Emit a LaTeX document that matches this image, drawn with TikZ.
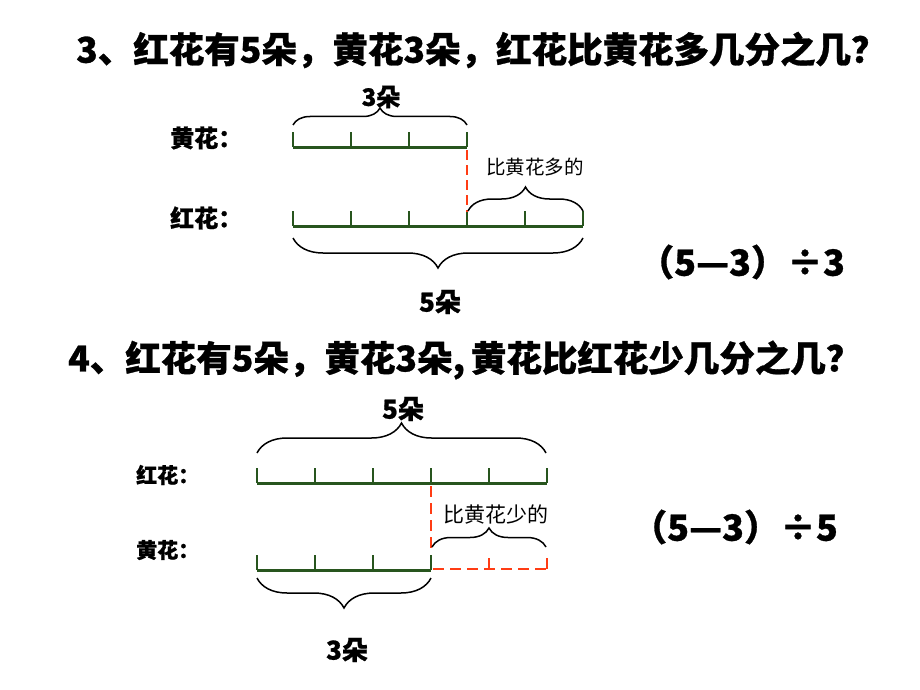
\documentclass[tikz,border=0pt]{standalone}
\usepackage{fontspec}
\setmainfont{Noto Sans CJK SC}[BoldFeatures={FakeBold=0.8}]
\usetikzlibrary{decorations.pathreplacing,calc}
\definecolor{barg}{RGB}{40,85,30}
\definecolor{redd}{RGB}{255,60,20}
\tikzset{
  bar/.style={draw=barg, line width=3pt},
  tk/.style={draw=barg, line width=2.6pt},
  dashr/.style={draw=redd, line width=2.4pt, dash pattern=on 11pt off 6pt},
  brc/.style={decorate, decoration={brace, amplitude=#1}, line width=1.5pt},
  txt/.style={inner sep=0pt, font=\bfseries},
}
\begin{document}
\begin{tikzpicture}[x=1pt,y=-1pt]
\useasboundingbox[fill=white] (0,0) rectangle (920,690);
% titles
\node[txt, anchor=west, font=\bfseries\fontsize{35.5}{40}\selectfont] (t1) at (76,50) {3、红花有5朵，黄花3朵，红花比黄花多几分之几？};
\node[txt, anchor=west, font=\bfseries\fontsize{35.5}{40}\selectfont] (t2) at (68,360) {4、红花有5朵，黄花3朵,\,黄花比红花少几分之几？};
% ---------- top diagram
\node[txt, anchor=west, font=\bfseries\fontsize{24}{28}\selectfont] (lh1) at (170,138) {黄花：};
\node[txt, anchor=west, font=\bfseries\fontsize{24}{28}\selectfont] (lr1) at (170,218) {红花：};
\foreach \i in {0,...,5} {
  \coordinate (r\i) at ({293+58*\i},226);
  \draw[tk] (r\i) -- ++(0,-15);
}
\foreach \i in {0,...,3} {
  \coordinate (y\i) at ({293+58*\i},147);
  \draw[tk] (y\i) -- ++(0,-15);
}
\draw[bar] (y0) -- (y3);
\draw[bar] (r0) -- (r5);
\draw[dashr, dash pattern=on 10pt off 5pt] ($(y3)+(0,3)$) -- ($(r3)+(0,-14)$);
\coordinate (b1a) at (293,125); \coordinate (b1b) at (467,125);
\draw[brc=17pt] (b1a) -- (b1b);
\node[txt, font=\bfseries\fontsize{24}{28}\selectfont] (n3a) at (381,97) {3朵};
\coordinate (b2a) at (468,211); \coordinate (b2b) at (583,211);
\draw[brc=24pt] (b2a) -- (b2b);
\node[txt, font=\fontsize{19.5}{22}\selectfont] (more) at (535,167) {比黄花多的};
\coordinate (b3a) at (293,238); \coordinate (b3b) at (583,238);
\draw[brc=30pt] (b3b) -- (b3a);
\node[txt, font=\bfseries\fontsize{26}{30}\selectfont] (n5a) at (440,302) {5朵};
\node[txt, anchor=west, font=\bfseries\fontsize{36}{40}\selectfont] (f1) at (638,262) {（5—3）÷3};
% ---------- bottom diagram
\node[txt, anchor=west, font=\bfseries\fontsize{21}{25}\selectfont] (lr2) at (136,475) {红花：};
\node[txt, anchor=west, font=\bfseries\fontsize{21}{25}\selectfont] (lh2) at (136,550) {黄花：};
\foreach \i in {0,...,5} {
  \coordinate (R\i) at ({257+58*\i},483);
  \draw[tk] (R\i) -- ++(0,-15);
}
\foreach \i in {0,...,3} {
  \coordinate (Y\i) at ({257+58*\i},570);
  \draw[tk] (Y\i) -- ++(0,-15);
}
\draw[bar] (R0) -- (R5);
\draw[bar] (Y0) -- (Y3);
\coordinate (Y4) at (489,569); \coordinate (Y5) at (547,569);
\draw[dashr] ($(R3)+(0,3)$) -- ($(Y3)+(0,-16)$);
\draw[dashr] ($(Y3)+(2,-1)$) -- (Y5);
\draw[dashr] (Y4) -- ++(0,-14);
\draw[dashr] (Y5) -- ++(0,-15);
\coordinate (B1a) at (257,453); \coordinate (B1b) at (546,453);
\draw[brc=30pt] (B1a) -- (B1b);
\node[txt, font=\bfseries\fontsize{26}{30}\selectfont] (n5b) at (403,409) {5朵};
\coordinate (B2a) at (432,547); \coordinate (B2b) at (546,547);
\draw[brc=19pt] (B2a) -- (B2b);
\node[txt, font=\fontsize{21}{25}\selectfont] (less) at (496,515) {比黄花少的};
\coordinate (B3a) at (257,578); \coordinate (B3b) at (431,578);
\draw[brc=30pt] (B3b) -- (B3a);
\node[txt, font=\bfseries\fontsize{26}{30}\selectfont] (n3b) at (347,650) {3朵};
\node[txt, anchor=west, font=\bfseries\fontsize{36}{40}\selectfont] (f2) at (631,527) {（5—3）÷5};
\end{tikzpicture}
\end{document}
